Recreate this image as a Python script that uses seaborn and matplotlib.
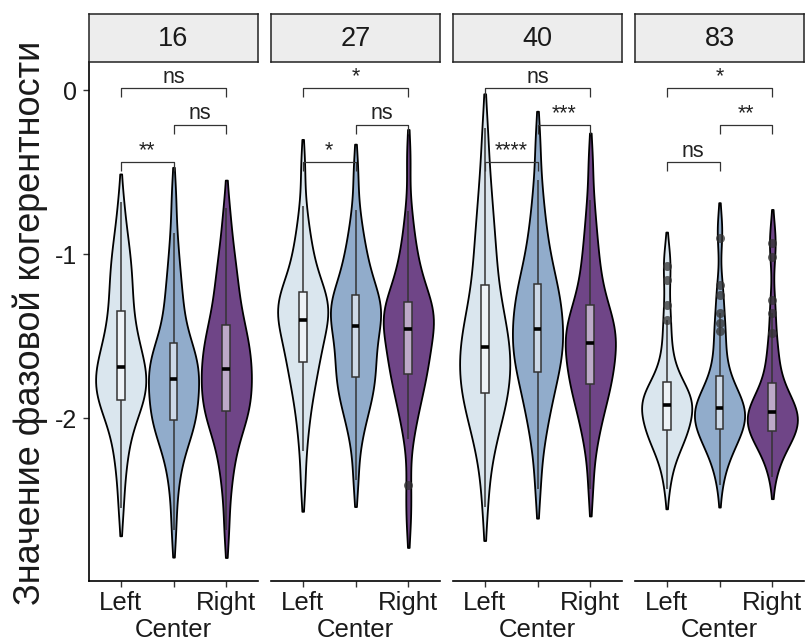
import matplotlib
matplotlib.use("Agg")
import matplotlib.pyplot as plt
import pandas as pd
import seaborn as sns

# ---------------------------------------------------------------- data
levels = ["16", "27", "40", "83"]
sides = ["Left", "Center", "Right"]
y_label = "Значение фазовой когерентности"
y_ticks = [0, -1, -2]
y_tick_labels = ["0", "-1", "-2"]

# phase-coherence values per level and side
v16_left = [-2.55, -2.36, -2.25, -2.17, -2.10, -2.04, -1.99, -1.955, -1.93, -1.91,
            -1.89, -1.865, -1.845, -1.825, -1.805, -1.785, -1.765, -1.745, -1.725, -1.705,
            -1.69, -1.665, -1.64, -1.61, -1.58, -1.55, -1.52, -1.48, -1.44, -1.40,
            -1.35, -1.30, -1.25, -1.20, -1.15, -1.10, -1.05, -0.99, -0.92, -0.84,
            -0.68]
v16_center = [-2.68, -2.46, -2.34, -2.25, -2.19, -2.14, -2.10, -2.07, -2.05, -2.03,
              -2.01, -1.985, -1.96, -1.935, -1.91, -1.885, -1.86, -1.835, -1.81, -1.785,
              -1.76, -1.74, -1.72, -1.70, -1.68, -1.66, -1.64, -1.62, -1.60, -1.57,
              -1.54, -1.49, -1.44, -1.38, -1.32, -1.26, -1.19, -1.11, -1.01, -0.87,
              -0.64]
v16_right = [-2.68, -2.45, -2.33, -2.24, -2.17, -2.11, -2.06, -2.02, -1.99, -1.975,
             -1.96, -1.93, -1.90, -1.875, -1.85, -1.82, -1.795, -1.77, -1.745, -1.72,
             -1.70, -1.675, -1.65, -1.62, -1.595, -1.57, -1.54, -1.51, -1.48, -1.455,
             -1.43, -1.38, -1.33, -1.28, -1.23, -1.18, -1.12, -1.06, -0.98, -0.88,
             -0.72]
v27_left = [-2.41, -2.20, -2.08, -1.99, -1.92, -1.86, -1.81, -1.77, -1.73, -1.69,
            -1.66, -1.63, -1.60, -1.57, -1.54, -1.51, -1.485, -1.46, -1.44, -1.42,
            -1.40, -1.38, -1.36, -1.34, -1.32, -1.30, -1.285, -1.27, -1.255, -1.24,
            -1.23, -1.19, -1.15, -1.11, -1.07, -1.02, -0.97, -0.91, -0.83, -0.71,
            -0.46]
v27_center = [-2.38, -2.17, -2.07, -2.00, -1.95, -1.91, -1.87, -1.84, -1.81, -1.78,
              -1.75, -1.72, -1.69, -1.66, -1.63, -1.60, -1.57, -1.54, -1.51, -1.475,
              -1.44, -1.42, -1.40, -1.38, -1.36, -1.34, -1.32, -1.30, -1.28, -1.265,
              -1.25, -1.21, -1.17, -1.13, -1.09, -1.04, -0.99, -0.93, -0.85, -0.73,
              -0.49]
v27_right = [-2.62, -2.41, -2.13, -2.04, -1.97, -1.91, -1.87, -1.83, -1.795, -1.76,
             -1.73, -1.70, -1.675, -1.65, -1.62, -1.595, -1.57, -1.545, -1.515, -1.49,
             -1.46, -1.44, -1.42, -1.40, -1.38, -1.365, -1.35, -1.335, -1.32, -1.305,
             -1.29, -1.25, -1.21, -1.17, -1.13, -1.08, -1.03, -0.96, -0.87, -0.74,
             -0.41]
v40_left = [-2.54, -2.32, -2.21, -2.13, -2.07, -2.02, -1.98, -1.94, -1.91, -1.88,
            -1.85, -1.82, -1.79, -1.76, -1.73, -1.705, -1.68, -1.655, -1.625, -1.60,
            -1.57, -1.54, -1.51, -1.48, -1.45, -1.42, -1.38, -1.34, -1.30, -1.25,
            -1.19, -1.13, -1.07, -1.01, -0.94, -0.87, -0.79, -0.70, -0.59, -0.45,
            -0.23]
v40_center = [-2.43, -2.22, -2.11, -2.03, -1.97, -1.92, -1.87, -1.83, -1.79, -1.755,
              -1.72, -1.69, -1.66, -1.635, -1.61, -1.585, -1.56, -1.535, -1.51, -1.485,
              -1.46, -1.43, -1.405, -1.38, -1.35, -1.32, -1.29, -1.265, -1.24, -1.21,
              -1.18, -1.14, -1.10, -1.05, -1.00, -0.94, -0.87, -0.79, -0.69, -0.55,
              -0.31]
v40_right = [-2.43, -2.22, -2.12, -2.05, -2.00, -1.95, -1.91, -1.87, -1.84, -1.815,
             -1.79, -1.76, -1.735, -1.71, -1.685, -1.66, -1.635, -1.61, -1.585, -1.56,
             -1.54, -1.52, -1.50, -1.48, -1.46, -1.44, -1.42, -1.395, -1.37, -1.34,
             -1.31, -1.27, -1.22, -1.17, -1.11, -1.05, -0.98, -0.90, -0.80, -0.67,
             -0.43]
v83_left = [-2.43, -2.33, -2.27, -2.23, -2.20, -2.17, -2.15, -2.13, -2.115, -2.10,
            -2.09, -2.075, -2.06, -2.045, -2.03, -2.015, -2.00, -1.985, -1.97, -1.955,
            -1.94, -1.93, -1.92, -1.91, -1.90, -1.89, -1.88, -1.87, -1.86, -1.85,
            -1.84, -1.82, -1.80, -1.78, -1.75, -1.72, -1.68, -1.63, -1.56, -1.48,
            -1.40, -1.31, -1.16, -1.07, -0.99]
v83_center = [-2.41, -2.31, -2.26, -2.23, -2.20, -2.175, -2.155, -2.135, -2.12, -2.105,
              -2.09, -2.075, -2.06, -2.05, -2.04, -2.03, -2.02, -2.005, -1.995, -1.98,
              -1.97, -1.96, -1.95, -1.94, -1.93, -1.92, -1.91, -1.90, -1.885, -1.87,
              -1.86, -1.84, -1.82, -1.79, -1.76, -1.73, -1.69, -1.64, -1.58, -1.52,
              -1.47, -1.42, -1.36, -1.25, -1.19, -0.90, -0.82]
v83_right = [-2.36, -2.28, -2.24, -2.21, -2.18, -2.16, -2.14, -2.125, -2.11, -2.10,
             -2.09, -2.08, -2.07, -2.06, -2.05, -2.04, -2.03, -2.02, -2.01, -2.00,
             -1.99, -1.98, -1.97, -1.96, -1.95, -1.94, -1.93, -1.92, -1.905, -1.89,
             -1.88, -1.86, -1.84, -1.81, -1.78, -1.74, -1.70, -1.65, -1.60, -1.55,
             -1.48, -1.36, -1.28, -1.02, -0.93, -0.86]

values = {
    ("16", "Left"): v16_left, ("16", "Center"): v16_center, ("16", "Right"): v16_right,
    ("27", "Left"): v27_left, ("27", "Center"): v27_center, ("27", "Right"): v27_right,
    ("40", "Left"): v40_left, ("40", "Center"): v40_center, ("40", "Right"): v40_right,
    ("83", "Left"): v83_left, ("83", "Center"): v83_center, ("83", "Right"): v83_right,
}

# values flagged as outliers on the box plots
outliers = {
    ("27", "Right"): [-2.41],
    ("83", "Left"): [-1.07, -1.16, -1.31, -1.40],
    ("83", "Center"): [-0.90, -1.19, -1.25, -1.36, -1.42, -1.47],
    ("83", "Right"): [-0.93, -1.02, -1.28, -1.36, -1.48],
}

# pairwise comparisons and their significance labels per level
pairs = [("Left", "Right"), ("Center", "Right"), ("Left", "Center")]
signif = {
    "16": ["ns", "ns", "**"],
    "27": ["*", "ns", "*"],
    "40": ["ns", "***", "****"],
    "83": ["*", "**", "ns"],
}

palette = {"Left": "#D7E6F1", "Center": "#87ACD5", "Right": "#723A92"}

rows = []
for (lvl, side), vs in values.items():
    for v in vs:
        rows.append({"level": lvl, "side": side, "value": v})
df = pd.DataFrame(rows)

orows = []
for (lvl, side), vs in outliers.items():
    for v in vs:
        orows.append({"level": lvl, "side": side, "value": v})
odf = pd.DataFrame(orows)

# ---------------------------------------------------------------- style
sns.set_theme(style="white")
plt.rcParams["font.family"] = ["Liberation Sans", "DejaVu Sans"]
plt.rcParams["axes.unicode_minus"] = False

W, H = 805, 644
fig = plt.figure(figsize=(W / 100, H / 100), dpi=100)

panel_left = [89, 271, 453, 635]
panel_w = 169
panel_top, panel_bottom = 62, 581
strip_top = 14

ylim = (-2.994, 0.171)
bracket_levels = [0.012, -0.213, -0.44]
tip = 0.055
tick_fs = 18.5

for i, lvl in enumerate(levels):
    ax = fig.add_axes([panel_left[i] / W, 1 - panel_bottom / H,
                       panel_w / W, (panel_bottom - panel_top) / H])
    sub = df[df["level"] == lvl]

    sns.violinplot(data=sub, x="side", y="value", hue="side", order=sides,
                   hue_order=sides, palette=palette, density_norm="width",
                   cut=1.2, inner=None, width=0.95, linewidth=1.3,
                   linecolor="black", bw_adjust=0.7, legend=False, ax=ax)
    n_patches = len(ax.patches)
    n_lines = len(ax.lines)
    sns.boxplot(data=sub, x="side", y="value", order=sides, width=0.15,
                color="white", showfliers=False, showcaps=False,
                linecolor="#333333", linewidth=1.1,
                medianprops=dict(color="black", linewidth=2.6), ax=ax)
    for p in ax.patches[n_patches:]:
        p.set_facecolor((1, 1, 1, 0.55))
        p.set_zorder(3)
    for ln in ax.lines[n_lines:]:
        ln.set_zorder(4)

    osub = odf[odf["level"] == lvl]
    if len(osub):
        sns.stripplot(data=osub, x="side", y="value", order=sides, jitter=False,
                      color="#333333", alpha=0.75, size=6.5, linewidth=0,
                      zorder=5, ax=ax)

    # significance brackets
    pos = {s: k for k, s in enumerate(sides)}
    for (a, b), yb, lab in zip(pairs, bracket_levels, signif[lvl]):
        xa, xb = pos[a], pos[b]
        ax.plot([xa, xa, xb, xb], [yb - tip, yb, yb, yb - tip],
                color="#333333", lw=0.9, solid_capstyle="butt", zorder=6)
        ax.annotate(lab, xy=((xa + xb) / 2, yb), xytext=(0, 4),
                    textcoords="offset points", ha="center", va="baseline",
                    fontsize=15.5, color="#222222")

    ax.set_xlim(-0.6, 2.6)
    ax.set_ylim(*ylim)
    ax.set_xlabel("")
    ax.set_ylabel("")
    ax.set_xticks(range(len(sides)))
    ax.set_xticklabels(sides, fontsize=tick_fs, color="#1a1a1a")
    ax.tick_params(axis="x", length=4.5, width=1.0, color="#333333", pad=2.5,
                   bottom=True)
    # staggered labels: the middle category sits on a second row
    ax.xaxis.get_major_ticks()[1].set_pad(2.5 + tick_fs * 1.05)
    for side in ["top", "right"]:
        ax.spines[side].set_visible(False)
    ax.spines["bottom"].set_color("black")
    ax.spines["bottom"].set_linewidth(1.2)
    if i == 0:
        ax.spines["left"].set_color("black")
        ax.spines["left"].set_linewidth(1.2)
        ax.set_yticks(y_ticks)
        ax.set_yticklabels(y_tick_labels, fontsize=18, color="#1a1a1a")
        ax.tick_params(axis="y", length=4.5, width=1.0, color="#333333", pad=4,
                       left=True)
    else:
        ax.spines["left"].set_visible(False)
        ax.set_yticks([])

    # facet strip
    sax = fig.add_axes([panel_left[i] / W, 1 - panel_top / H,
                        panel_w / W, (panel_top - strip_top) / H])
    sax.set_facecolor("#EDEDED")
    sax.set_xticks([])
    sax.set_yticks([])
    for sp in sax.spines.values():
        sp.set_visible(True)
        sp.set_color("#222222")
        sp.set_linewidth(1.1)
    sax.text(0.5, 0.47, lvl, ha="center", va="center", fontsize=19.5,
             color="#1a1a1a", transform=sax.transAxes)

fig.text(30 / W, 1 - 323 / H, y_label, rotation=90, ha="center", va="center",
         fontsize=26, color="#1a1a1a")

fig.savefig("out.png", dpi=100)
